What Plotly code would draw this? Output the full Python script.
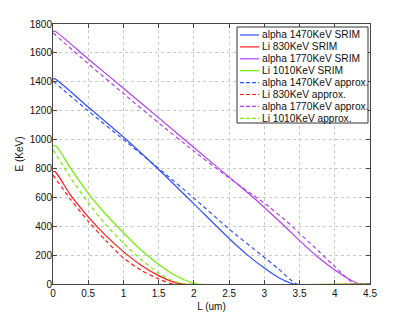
import plotly.graph_objects as go

# ---- data ----
series_names = [
    "alpha 1470KeV SRIM", "Li 830KeV SRIM", "alpha 1770KeV SRIM", "Li 1010KeV SRIM",
    "alpha 1470KeV approx.", "Li 830KeV approx.", "alpha 1770KeV approx.", "Li 1010KeV approx.",
]

L_alpha1470_srim = [0, 0.03, 0.5, 1.0, 1.5, 2.0, 2.5, 2.75, 3.0, 3.2, 3.42, 4.5]
E_alpha1470_srim = [1420, 1420, 1225, 1018, 793, 555, 315, 205, 110, 45, 0, 0]

L_li830_srim = [0, 0.03, 0.25, 0.5, 0.75, 1.0, 1.25, 1.5, 1.7, 1.85, 4.5]
E_li830_srim = [778, 778, 615, 465, 335, 224, 130, 58, 15, 0, 0]

L_alpha1770_srim = [0, 0.03, 0.5, 1.0, 1.5, 2.0, 2.5, 2.84, 3.0, 3.29, 3.5, 3.75, 4.0, 4.2, 4.36, 4.5]
E_alpha1770_srim = [1750, 1750, 1558, 1355, 1150, 945, 740, 600, 530, 400, 300, 190, 97, 35, 0, 0]

L_li1010_srim = [0, 0.04, 0.25, 0.5, 0.75, 1.0, 1.25, 1.5, 1.75, 1.95, 2.05, 4.5]
E_li1010_srim = [957, 957, 800, 628, 483, 355, 235, 135, 55, 12, 0, 0]

L_alpha1470_approx = [0, 0.5, 1.0, 1.5, 2.0, 2.5, 2.96, 3.2, 3.46, 4.5]
E_alpha1470_approx = [1405, 1198, 1000, 800, 595, 380, 200, 105, 0, 0]

L_li830_approx = [0, 0.25, 0.5, 0.75, 1.0, 1.25, 1.5, 1.7, 4.5]
E_li830_approx = [755, 585, 435, 300, 180, 95, 35, 0, 0]

L_alpha1770_approx = [0, 0.5, 1.0, 1.5, 2.0, 2.4, 2.84, 3.0, 3.29, 3.5, 3.7, 4.0, 4.15, 4.28, 4.5]
E_alpha1770_approx = [1738, 1525, 1318, 1115, 920, 770, 615, 560, 445, 350, 260, 120, 50, 0, 0]

L_li1010_approx = [0, 0.25, 0.5, 0.75, 1.0, 1.25, 1.5, 1.7, 1.87, 4.5]
E_li1010_approx = [930, 735, 563, 410, 282, 170, 75, 22, 0, 0]

x_ticks = [0, 0.5, 1, 1.5, 2, 2.5, 3, 3.5, 4, 4.5]
x_tick_labels = ["0", "0.5", "1", "1.5", "2", "2.5", "3", "3.5", "4", "4.5"]
y_ticks = [0, 200, 400, 600, 800, 1000, 1200, 1400, 1600, 1800]
y_tick_labels = [str(v) for v in y_ticks]

# ---- styles ----
colors = ["#3050ff", "#ff1a1a", "#b040f0", "#70f000"]
FONT = "Liberation Sans, Arial, Helvetica, sans-serif"

series = [
    (L_alpha1470_srim, E_alpha1470_srim), (L_li830_srim, E_li830_srim),
    (L_alpha1770_srim, E_alpha1770_srim), (L_li1010_srim, E_li1010_srim),
    (L_alpha1470_approx, E_alpha1470_approx), (L_li830_approx, E_li830_approx),
    (L_alpha1770_approx, E_alpha1770_approx), (L_li1010_approx, E_li1010_approx),
]

fig = go.Figure()
for i, (xs, ys) in enumerate(series):
    dashed = i >= 4
    fig.add_trace(go.Scatter(
        x=xs, y=ys, mode="lines", name=series_names[i], showlegend=False,
        line=dict(color=colors[i % 4], width=1.2, dash="4px,3px" if dashed else "solid",
                  shape="spline", smoothing=0.6),
    ))

W, H = 409, 320
ml, mr, mt, mb = 53, 39, 24, 36
pw, ph = W - ml - mr, H - mt - mb

def px_to_paper(px, py):
    return (px - ml) / pw, (H - mb - py) / ph

# ---- custom compact legend (MATLAB style) ----
shapes = []
annotations = []
x0, y0 = px_to_paper(237, 27)
x1, y1 = px_to_paper(368, 123)
shapes.append(dict(type="rect", xref="paper", yref="paper", x0=x0, y0=y1, x1=x1, y1=y0,
                   line=dict(color="#333333", width=1), fillcolor="white", layer="above"))
for i, name in enumerate(series_names):
    py = 35 + i * 11.9
    lx0, ly = px_to_paper(240, py)
    lx1, _ = px_to_paper(259, py)
    shapes.append(dict(type="line", xref="paper", yref="paper", x0=lx0, x1=lx1, y0=ly, y1=ly,
                       line=dict(color=colors[i % 4], width=1.2,
                                 dash="4px,2px" if i >= 4 else "solid"), layer="above"))
    tx, ty = px_to_paper(260, py)
    annotations.append(dict(xref="paper", yref="paper", x=tx, y=ty, text=name, showarrow=False,
                            xanchor="left", yanchor="middle",
                            font=dict(family=FONT, size=10.2, color="#111111")))

axis_common = dict(
    showline=True, linecolor="#444444", linewidth=1, mirror="ticks",
    ticks="inside", ticklen=4, tickcolor="#444444",
    showgrid=True, gridcolor="#c8c8c8", gridwidth=1, griddash="dot",
    zeroline=False, tickfont=dict(family=FONT, size=10, color="#111111"),
)

fig.update_layout(
    width=W, height=H,
    margin=dict(l=ml, r=mr, t=mt, b=mb, autoexpand=False),
    paper_bgcolor="white", plot_bgcolor="white",
    xaxis=dict(range=[0, 4.5], tickvals=x_ticks, ticktext=x_tick_labels,
               title=dict(text="L (um)", font=dict(family=FONT, size=10, color="#111111"), standoff=4),
               **axis_common),
    yaxis=dict(range=[0, 1800], tickvals=y_ticks, ticktext=y_tick_labels, ticklabelstandoff=-2,
               title=dict(text="E (KeV)", font=dict(family=FONT, size=10, color="#111111"), standoff=4),
               **axis_common),
    shapes=shapes, annotations=annotations, showlegend=False,
)

fig.write_html("out.html", config={"displayModeBar": False, "staticPlot": True},
               post_script="document.body.style.margin='0px';document.body.style.overflow='hidden';")
